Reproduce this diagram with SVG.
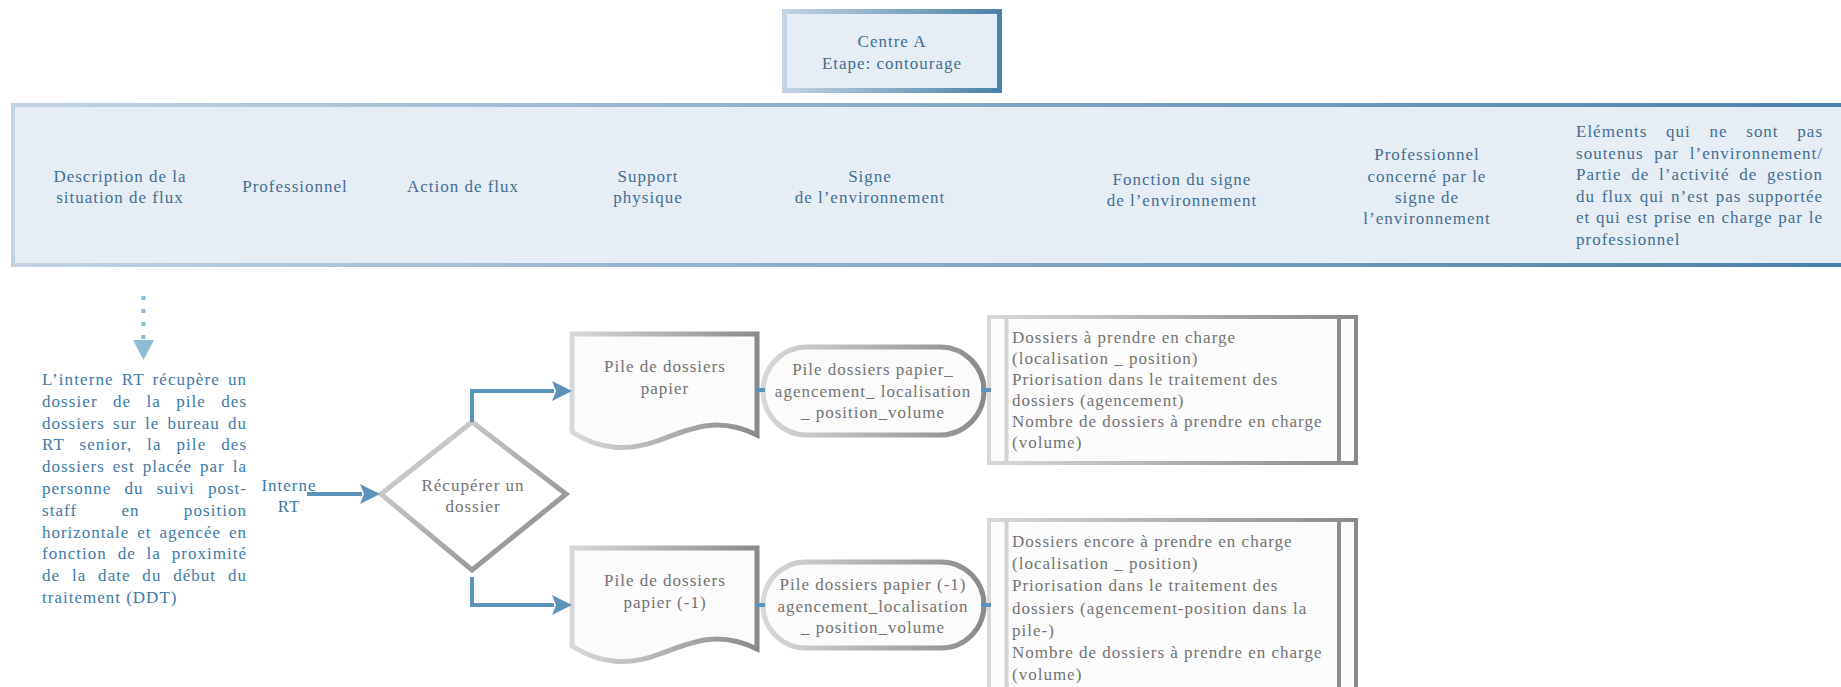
<svg xmlns="http://www.w3.org/2000/svg" width="1841" height="687" viewBox="0 0 1841 687">
<defs>
  <linearGradient id="gBlueH" gradientUnits="userSpaceOnUse" x1="11" y1="0" x2="1841" y2="0">
    <stop offset="0" stop-color="#c3d3e2"/>
    <stop offset="1" stop-color="#4a80a9"/>
  </linearGradient>
  <linearGradient id="gBlueBox" x1="0" y1="0" x2="1" y2="0">
    <stop offset="0" stop-color="#c3d3e2"/>
    <stop offset="1" stop-color="#4b81aa"/>
  </linearGradient>
  <linearGradient id="gGrayH" x1="0" y1="0" x2="1" y2="0">
    <stop offset="0" stop-color="#d8d8d8"/>
    <stop offset="1" stop-color="#8a8a8a"/>
  </linearGradient>
  <linearGradient id="gGrayD" x1="0" y1="0" x2="1" y2="1">
    <stop offset="0" stop-color="#dcdcdc"/>
    <stop offset="1" stop-color="#848484"/>
  </linearGradient>
  <filter id="soft" x="-5%" y="-5%" width="110%" height="110%">
    <feGaussianBlur stdDeviation="0.6"/>
  </filter>
  <marker id="arr" markerUnits="userSpaceOnUse" markerWidth="20" markerHeight="20" viewBox="0 0 20 20" refX="2" refY="10" orient="auto">
    <path d="M0,0 L20,10 L0,20 L4,10 Z" fill="#5b93bb"/>
  </marker>
</defs>
<style>
  text { font-family: "Liberation Serif", "Times New Roman", serif; font-size: 17px; letter-spacing: 1px; }
  .hd { fill: #3f6f95; text-anchor: middle; }
  .bl { fill: #3d7aa7; }
  .blc { fill: #3d7aa7; text-anchor: middle; }
  .gr { fill: #737373; }
  .grc { fill: #737373; text-anchor: middle; }
  .conn { fill: none; stroke: #5b93bb; stroke-width: 4; }
  .tick { stroke: #5b93bb; stroke-width: 4; }
  .shp { fill: #fbfbfb; stroke-width: 5; }
</style>
<rect width="1841" height="687" fill="#ffffff"/>

<g id="centre-a">
  <rect x="784.5" y="11.5" width="215" height="79" fill="#e7edf4" stroke="url(#gBlueBox)" stroke-width="5"/>
  <text class="hd" x="892" y="47">Centre A</text>
  <text class="hd" x="892" y="69">Etape: contourage</text>
</g>

<g id="header">
  <rect x="13" y="105" width="1840" height="160" fill="#e7edf4" stroke="url(#gBlueH)" stroke-width="4"/>
  <text class="hd" x="120" y="182">Description de la</text>
  <text class="hd" x="120" y="203">situation de flux</text>
  <text class="hd" x="295" y="192">Professionnel</text>
  <text class="hd" x="463" y="192">Action de flux</text>
  <text class="hd" x="648" y="182">Support</text>
  <text class="hd" x="648" y="203">physique</text>
  <text class="hd" x="870" y="182">Signe</text>
  <text class="hd" x="870" y="203">de l’environnement</text>
  <text class="hd" x="1182" y="185">Fonction du signe</text>
  <text class="hd" x="1182" y="206">de l’environnement</text>
  <text class="hd" x="1427" y="160">Professionnel</text>
  <text class="hd" x="1427" y="182">concerné par le</text>
  <text class="hd" x="1427" y="203">signe de</text>
  <text class="hd" x="1427" y="224">l’environnement</text>
  <g fill="#3f6f95">
    <text x="1576" y="137" word-spacing="13.5" textLength="247" lengthAdjust="spacing">Eléments qui ne sont pas</text>
    <text x="1576" y="158.6" word-spacing="5.5" textLength="247" lengthAdjust="spacing">soutenus par l’environnement/</text>
    <text x="1576" y="180.2" word-spacing="4.5" textLength="247" lengthAdjust="spacing">Partie de l’activité de gestion</text>
    <text x="1576" y="201.8" word-spacing="1.4" textLength="247" lengthAdjust="spacing">du flux qui n’est pas supportée</text>
    <text x="1576" y="223.4" word-spacing="0.4" textLength="247" lengthAdjust="spacing">et qui est prise en charge par le</text>
    <text x="1576" y="245">professionnel</text>
  </g>
</g>

<g id="description">
  <text class="bl" x="42" y="385" word-spacing="2.7" textLength="205" lengthAdjust="spacing">L’interne RT récupère un</text>
  <text class="bl" x="42" y="406.8" word-spacing="10" textLength="205" lengthAdjust="spacing">dossier de la pile des</text>
  <text class="bl" x="42" y="428.6" word-spacing="3" textLength="205" lengthAdjust="spacing">dossiers sur le bureau du</text>
  <text class="bl" x="42" y="450.4" word-spacing="9.5" textLength="205" lengthAdjust="spacing">RT senior, la pile des</text>
  <text class="bl" x="42" y="472.2" word-spacing="2.75" textLength="205" lengthAdjust="spacing">dossiers est placée par la</text>
  <text class="bl" x="42" y="494" word-spacing="8" textLength="205" lengthAdjust="spacing">personne du suivi post-</text>
  <text class="bl" x="42" y="515.8" word-spacing="39" textLength="205" lengthAdjust="spacing">staff en position</text>
  <text class="bl" x="42" y="537.6" word-spacing="2.7" textLength="205" lengthAdjust="spacing">horizontale et agencée en</text>
  <text class="bl" x="42" y="559.4" word-spacing="5.7" textLength="205" lengthAdjust="spacing">fonction de la proximité</text>
  <text class="bl" x="42" y="581.2" word-spacing="6.6" textLength="205" lengthAdjust="spacing">de la date du début du</text>
  <text class="bl" x="42" y="603">traitement (DDT)</text>
</g>

<g id="professionnel">
  <text class="blc" x="289" y="491">Interne</text>
  <text class="blc" x="289" y="512">RT</text>
</g>

<g id="decision">
  <polygon points="381,494 472,422 566,494 472,570" fill="#ffffff" stroke="url(#gGrayD)" stroke-width="5" stroke-linejoin="miter" filter="url(#soft)"/>
  <text class="grc" x="473" y="491">Récupérer un</text>
  <text class="grc" x="473" y="512">dossier</text>
</g>

<g id="document-1">
  <path class="shp" d="M572,334 H757 V435 C718,416 692,428 660,440 C628,452 600,450 572,432 Z" stroke="url(#gGrayH)" filter="url(#soft)"/>
  <text class="grc" x="665" y="372">Pile de dossiers</text>
  <text class="grc" x="665" y="394">papier</text>
</g>

<g id="signe-1">
  <rect class="shp" x="763" y="347" width="221" height="88" rx="44" ry="44" stroke="url(#gGrayH)" filter="url(#soft)"/>
  <text class="grc" x="873" y="375">Pile dossiers papier_</text>
  <text class="grc" x="873" y="397">agencement_ localisation</text>
  <text class="grc" x="873" y="418">_ position_volume</text>
</g>

<g id="fonction-1">
  <rect x="989" y="317" width="367" height="146" fill="#fcfcfc" stroke="url(#gGrayH)" stroke-width="4" filter="url(#soft)"/>
  <line x1="1006.5" y1="317" x2="1006.5" y2="463" stroke="#d2d2d2" stroke-width="4"/>
  <line x1="1339" y1="317" x2="1339" y2="463" stroke="#8e8e8e" stroke-width="4"/>
  <text class="gr" x="1012" y="343">Dossiers à prendre en charge</text>
  <text class="gr" x="1012" y="364">(localisation _ position)</text>
  <text class="gr" x="1012" y="385">Priorisation dans le traitement des</text>
  <text class="gr" x="1012" y="406">dossiers (agencement)</text>
  <text class="gr" x="1012" y="427">Nombre de dossiers à prendre en charge</text>
  <text class="gr" x="1012" y="448">(volume)</text>
</g>

<g id="document-2">
  <path class="shp" d="M572,548 H757 V649 C718,630 692,642 660,654 C628,666 600,664 572,646 Z" stroke="url(#gGrayH)" filter="url(#soft)"/>
  <text class="grc" x="665" y="586">Pile de dossiers</text>
  <text class="grc" x="665" y="608">papier (-1)</text>
</g>

<g id="signe-2">
  <rect class="shp" x="763" y="562" width="221" height="86" rx="43" ry="43" stroke="url(#gGrayH)" filter="url(#soft)"/>
  <text class="grc" x="873" y="590">Pile dossiers papier (-1)</text>
  <text class="grc" x="873" y="612">agencement_localisation</text>
  <text class="grc" x="873" y="633">_ position_volume</text>
</g>

<g id="fonction-2">
  <rect x="989" y="520" width="367" height="200" fill="#fcfcfc" stroke="url(#gGrayH)" stroke-width="4" filter="url(#soft)"/>
  <line x1="1006.5" y1="520" x2="1006.5" y2="720" stroke="#d2d2d2" stroke-width="4"/>
  <line x1="1339" y1="520" x2="1339" y2="720" stroke="#8e8e8e" stroke-width="4"/>
  <text class="gr" x="1012" y="547">Dossiers encore à prendre en charge</text>
  <text class="gr" x="1012" y="569">(localisation _ position)</text>
  <text class="gr" x="1012" y="591">Priorisation dans le traitement des</text>
  <text class="gr" x="1012" y="614">dossiers (agencement-position dans la</text>
  <text class="gr" x="1012" y="636">pile-)</text>
  <text class="gr" x="1012" y="658">Nombre de dossiers à prendre en charge</text>
  <text class="gr" x="1012" y="680">(volume)</text>
</g>

<g id="connectors">
  <line x1="143.5" y1="296" x2="143.5" y2="342" stroke="#8dbcd8" stroke-width="4" stroke-dasharray="4 9"/>
  <polygon points="133,340 154,340 143.5,360" fill="#8dbcd8"/>
  <path class="conn" d="M307,494 H362" marker-end="url(#arr)"/>
  <path class="conn" d="M472,422 V391 H554" marker-end="url(#arr)"/>
  <path class="conn" d="M472,577 V605 H554" marker-end="url(#arr)"/>
  <line class="tick" x1="756" y1="390" x2="765" y2="390"/>
  <line class="tick" x1="981" y1="390" x2="991" y2="390"/>
  <line class="tick" x1="756" y1="605" x2="765" y2="605"/>
  <line class="tick" x1="981" y1="605" x2="991" y2="605"/>
</g>
</svg>
